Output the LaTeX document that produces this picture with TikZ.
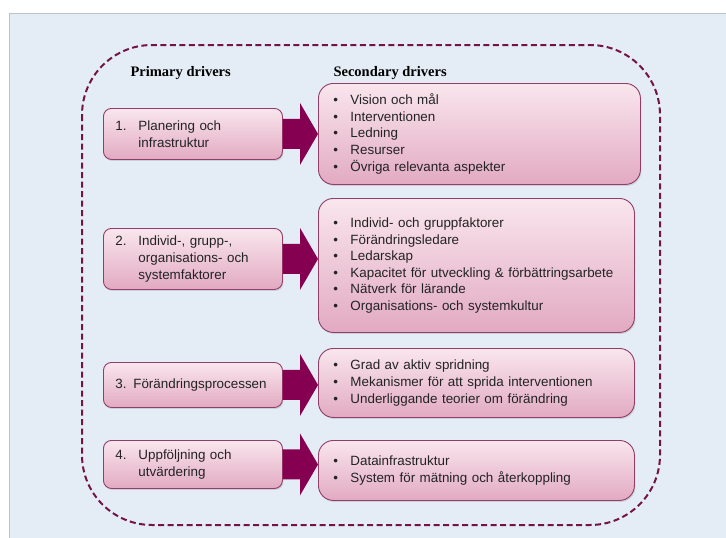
\documentclass[tikz,border=0pt]{standalone}
\usepackage{fontspec}
\setmainfont{Liberation Sans}
\newfontfamily\headfont{Liberation Serif}
\usetikzlibrary{calc,shadows}

\definecolor{panelblue}{RGB}{228,236,246}
\definecolor{panelline}{RGB}{190,195,202}
\definecolor{boxtop}{RGB}{249,230,237}
\definecolor{boxbot}{RGB}{226,170,194}
\definecolor{boxline}{RGB}{145,62,104}
\definecolor{plum}{RGB}{133,0,80}
\definecolor{dashplum}{RGB}{115,20,70}
\definecolor{txt}{RGB}{35,35,35}

\newcommand{\bul}{\makebox[17pt][l]{\textbullet}}
\newcommand{\pnum}[1]{\makebox[23pt][l]{#1}}

\begin{document}
\begin{tikzpicture}[
  x=1pt,y=-1pt,
  head/.style ={anchor=west,font=\headfont\bfseries\fontsize{14.5}{17}\selectfont},
  drvbox/.style={rectangle,draw=boxline,line width=0.9pt,
                 top color=boxtop,bottom color=boxbot,text=txt,
                 drop shadow={opacity=0.25,shadow xshift=1pt,shadow yshift=-1.5pt},
                 anchor=north west,align=left,
                 font=\fontsize{13.4}{16.6}\selectfont},
  prim/.style ={drvbox,rounded corners=8pt,inner xsep=12pt,
                minimum width=179pt,text width=155pt},
  sec/.style  ={drvbox,rounded corners=15pt,inner xsep=15pt},
  bigarrow/.style={fill=plum},
  frame/.style={draw=dashplum,line width=2pt,dash pattern=on 6pt off 3.5pt,
                rounded corners=70pt}
]
\useasboundingbox (0,0) rectangle (726,538);
% panel
\fill[panelblue] (9,13) rectangle (726,538);
\draw[panelline,line width=1pt] (726,13) -- (9,13) -- (9,538);
\draw[frame] (82,45) rectangle (660,525);

\node[head] (hp) at (127,73) {Primary drivers};
\node[head] (hs) at (330,73) {Secondary drivers};

% primary drivers
\node[prim,minimum height=51pt] (p1) at (103,108)
  {\pnum{1.}Planering och\\\hspace*{23pt}infrastruktur};
\node[prim,minimum height=61pt] (p2) at (103,228)
  {\pnum{2.}Individ-, grupp-,\\\hspace*{23pt}organisations- och\\\hspace*{23pt}systemfaktorer};
\node[prim,minimum height=45pt] (p3) at (103,362)
  {3. Förändringsprocessen};
\node[prim,minimum height=48pt] (p4) at (103,440)
  {\pnum{4.}Uppföljning och\\\hspace*{23pt}utvärdering};

% secondary drivers
\node[sec,minimum width=322pt,text width=292pt,minimum height=101pt] (s1) at (318,83)
  {\bul Vision och mål\\\bul Interventionen\\\bul Ledning\\\bul Resurser\\\bul Övriga relevanta aspekter};
\node[sec,minimum width=316pt,text width=286pt,minimum height=134pt] (s2) at (318,198)
  {\bul Individ- och gruppfaktorer\\\bul Förändringsledare\\\bul Ledarskap\\
   \bul Kapacitet för utveckling \& förbättringsarbete\\\bul Nätverk för lärande\\
   \bul Organisations- och systemkultur};
\node[sec,minimum width=316pt,text width=286pt,minimum height=69pt] (s3) at (318,348)
  {\bul Grad av aktiv spridning\\\bul Mekanismer för att sprida interventionen\\
   \bul Underliggande teorier om förändring};
\node[sec,minimum width=316pt,text width=286pt,minimum height=60pt] (s4) at (318,440)
  {\bul Datainfrastruktur\\\bul System för mätning och återkoppling};

% block arrows
\foreach \i in {1,...,4}{
  \coordinate (t\i) at (s\i.west |- p\i.east);
  \fill[bigarrow] ([yshift=15pt]p\i.east) -- ([xshift=-18pt,yshift=15pt]t\i)
    -- ([xshift=-18pt,yshift=31pt]t\i) -- (t\i)
    -- ([xshift=-18pt,yshift=-31pt]t\i) -- ([xshift=-18pt,yshift=-15pt]t\i)
    -- ([yshift=-15pt]p\i.east) -- cycle;
}
\end{tikzpicture}
\end{document}
